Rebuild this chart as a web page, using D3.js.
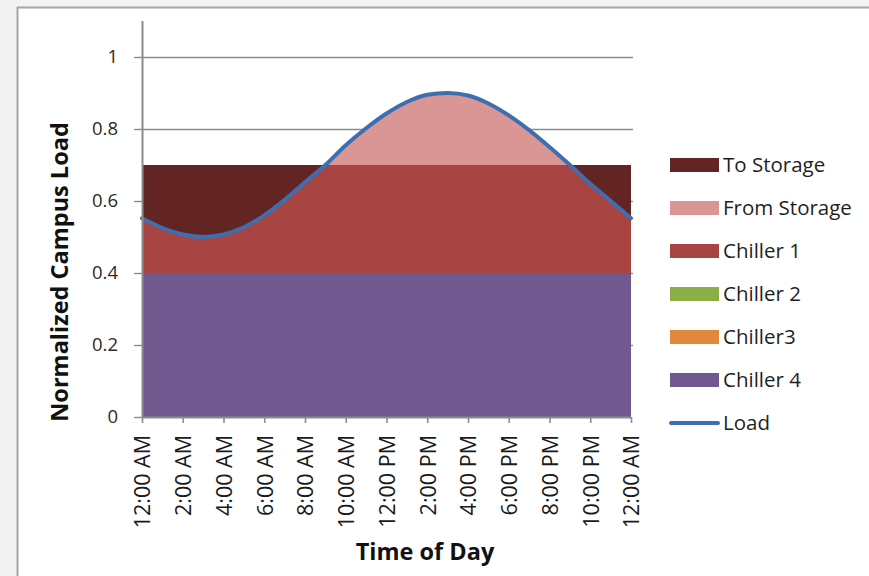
<!DOCTYPE html>
<html><head><meta charset="utf-8">
<script src="https://cdn.jsdelivr.net/npm/d3@7"></script>
<style>
html,body{margin:0;padding:0;background:#fff;}
svg{display:block;font-family:"Open Sans",sans-serif;}
</style></head><body>
<svg id="c" width="869" height="576"></svg>
<script>
// Hours of the day (0..24)
const hours = [0,1,2,3,4,5,6,7,8,9,10,11,12,13,14,15,16,17,18,19,20,21,22,23,24];
const tickHours = [0,2,4,6,8,10,12,14,16,18,20,22,24];
const tickLabels = ["12:00 AM","2:00 AM","4:00 AM","6:00 AM","8:00 AM","10:00 AM","12:00 PM","2:00 PM","4:00 PM","6:00 PM","8:00 PM","10:00 PM","12:00 AM"];
const yTicks = [0,0.2,0.4,0.6,0.8,1];
const yTickLabels = ["0","0.2","0.4","0.6","0.8","1"];

// Series (normalized load), hourly
const load        = [0.552,0.525,0.507,0.500,0.507,0.527,0.560,0.603,0.652,0.700,0.755,0.802,0.843,0.875,0.895,0.900,0.893,0.871,0.838,0.797,0.750,0.700,0.648,0.600,0.552];
const chiller4    = [0.4,0.4,0.4,0.4,0.4,0.4,0.4,0.4,0.4,0.4,0.4,0.4,0.4,0.4,0.4,0.4,0.4,0.4,0.4,0.4,0.4,0.4,0.4,0.4,0.4];
const chiller3    = [0,0,0,0,0,0,0,0,0,0,0,0,0,0,0,0,0,0,0,0,0,0,0,0,0];
const chiller2    = [0,0,0,0,0,0,0,0,0,0,0,0,0,0,0,0,0,0,0,0,0,0,0,0,0];
const chiller1    = [0.152,0.125,0.107,0.100,0.107,0.127,0.160,0.203,0.252,0.300,0.300,0.300,0.300,0.300,0.300,0.300,0.300,0.300,0.300,0.300,0.300,0.300,0.248,0.200,0.152];
const fromStorage = [0,0,0,0,0,0,0,0,0,0,0.055,0.102,0.143,0.175,0.195,0.200,0.193,0.171,0.138,0.097,0.050,0,0,0,0];
const toStorage   = [0.148,0.175,0.193,0.200,0.193,0.173,0.140,0.097,0.048,0,0,0,0,0,0,0,0,0,0,0,0,0,0.052,0.100,0.148];

const seriesNames = ["Chiller 4","Chiller3","Chiller 2","Chiller 1","From Storage","To Storage"];
const seriesData  = [chiller4, chiller3, chiller2, chiller1, fromStorage, toStorage];
const colors = {"To Storage":"#632523","From Storage":"#d99694","Chiller 1":"#a84542","Chiller 2":"#8cae48","Chiller3":"#e0883c","Chiller 4":"#71588f"};
const legendOrder = ["To Storage","From Storage","Chiller 1","Chiller 2","Chiller3","Chiller 4","Load"];
const lineColor = "#3d6fb0";

const svg = d3.select("#c");
// background frame
svg.append("rect").attr("x",0).attr("y",0).attr("width",869).attr("height",576).attr("fill","#f3f3f3");
svg.append("rect").attr("x",17).attr("y",7).attr("width",860).attr("height",580).attr("fill","#fff");
svg.append("line").attr("x1",17).attr("x2",869).attr("y1",7.5).attr("y2",7.5).attr("stroke","#a6a6a6").attr("stroke-width",2);
svg.append("line").attr("x1",17.5).attr("x2",17.5).attr("y1",7).attr("y2",576).attr("stroke","#a6a6a6").attr("stroke-width",2);

const x = d3.scaleLinear().domain([0,24]).range([142,631]);
const y = d3.scaleLinear().domain([0,1.1]).range([417,21]);

// gridlines
svg.append("g").selectAll("line").data(yTicks.filter(d=>d>0)).join("line")
  .attr("x1",142).attr("x2",633).attr("y1",d=>Math.round(y(d))+0.5).attr("y2",d=>Math.round(y(d))+0.5)
  .attr("stroke","#8c8c8c").attr("stroke-width",1.4);

// stacked areas
const rows = hours.map((h,i)=>{const r={h}; seriesNames.forEach((n,k)=>r[n]=seriesData[k][i]); return r;});
const stack = d3.stack().keys(seriesNames)(rows);
const area = d3.area().x(d=>x(d.data.h)).y0(d=>y(d[0])).y1(d=>y(d[1]));
svg.append("g").selectAll("path").data(stack).join("path")
  .attr("d",area).attr("fill",d=>colors[d.key]);

// load line
const line = d3.line().x((d,i)=>x(hours[i])).y(d=>y(d)).curve(d3.curveMonotoneX);
svg.append("path").datum(load).attr("d",line).attr("fill","none")
  .attr("stroke",lineColor).attr("stroke-width",4).attr("stroke-linecap","round");

// y axis
const yAxis = d3.axisLeft(y).tickValues(yTicks).tickFormat((d,i)=>yTickLabels[i]).tickSize(8).tickPadding(16);
const gy = svg.append("g").attr("transform","translate(142,0)").call(yAxis);
gy.select(".domain").attr("d","M0.5,417V21").attr("stroke","#8c8c8c").attr("stroke-width",2);
gy.selectAll(".tick line").attr("stroke","#8c8c8c").attr("stroke-width",1.4);
gy.selectAll(".tick text").attr("font-family","Open Sans").attr("font-size",18.5).attr("fill","#2b2b2b");

// x axis
const xAxis = d3.axisBottom(x).tickValues(tickHours).tickFormat((d,i)=>tickLabels[i]).tickSize(6);
const gx = svg.append("g").attr("transform","translate(0,417)").call(xAxis);
gx.select(".domain").attr("d","M142,0.5H631").attr("stroke","#8c8c8c").attr("stroke-width",2);
gx.selectAll(".tick line").attr("stroke","#8c8c8c").attr("stroke-width",1.6);
gx.selectAll(".tick text").attr("font-family","Open Sans").attr("font-size",21.5).attr("fill","#1a1a1a")
  .attr("text-anchor","end").attr("transform","rotate(-90)").attr("x",-18).attr("y",0).attr("dy","0.36em");

// axis titles
svg.append("text").attr("x",425).attr("y",560).attr("text-anchor","middle")
  .attr("font-weight","bold").attr("font-size",23.5).attr("fill","#111").text("Time of Day");
svg.append("text").attr("transform","translate(68,272) rotate(-90)").attr("text-anchor","middle")
  .attr("font-weight","bold").attr("font-size",23.5).attr("fill","#111").text("Normalized Campus Load");

// legend
const lg = svg.append("g");
legendOrder.forEach((n,i)=>{
  const cy = 165 + i*43;
  if(n==="Load"){
    lg.append("line").attr("x1",671).attr("x2",718).attr("y1",cy).attr("y2",cy)
      .attr("stroke",lineColor).attr("stroke-width",4).attr("stroke-linecap","round");
  } else {
    lg.append("rect").attr("x",670).attr("y",cy-7).attr("width",49).attr("height",14).attr("fill",colors[n]);
  }
  lg.append("text").attr("x",723).attr("y",cy).attr("dy","0.36em").attr("font-size",20.5).attr("fill","#1f1f1f").text(n);
});
</script>
</body></html>
